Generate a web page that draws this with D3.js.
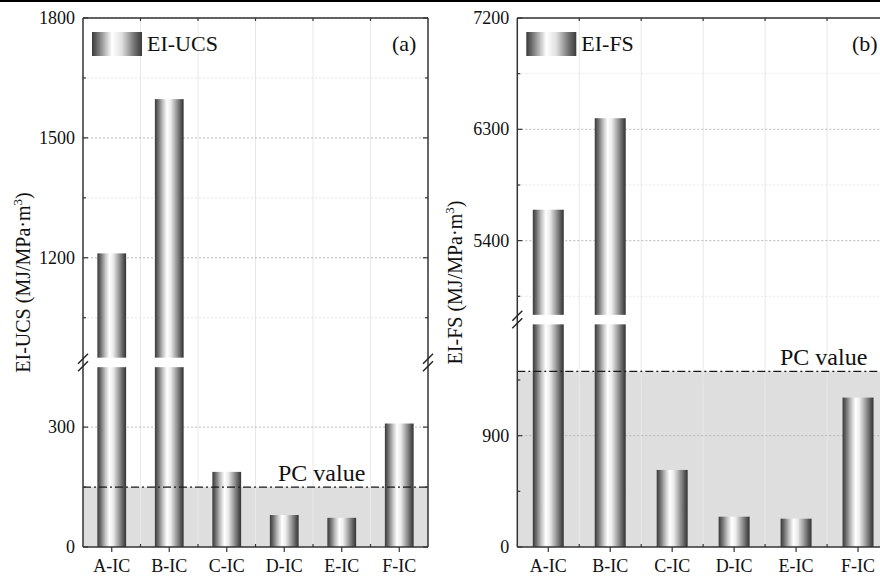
<!DOCTYPE html>
<html><head><meta charset="utf-8">
<script src="https://cdn.jsdelivr.net/npm/d3@7/dist/d3.min.js"></script>
<style>body{margin:0;background:#fff}svg{display:block}</style>
</head><body><svg id="c" width="880" height="580"></svg>
<script>
const categories = ["A-IC","B-IC","C-IC","D-IC","E-IC","F-IC"];
const ucsValues = [1211, 1597, 188, 80, 73, 309];
const fsValues = [5650, 6390, 623, 245, 229, 1208];
const ucsPC = 150;
const fsPC = 1420;
const ucsLower = [0, 450], ucsUpper = [950, 1800];
const fsLower = [0, 1800], fsUpper = [4800, 7200];
const ucsMajor = [0, 300, 1200, 1500, 1800];
const ucsMinor = [150, 1050, 1350, 1650];
const fsMajor = [0, 900, 5400, 6300, 7200];
const fsMinor = [450, 1350, 4950, 5850, 6750];
const ucsLegend = "EI-UCS", fsLegend = "EI-FS";
const ucsTitle = "EI-UCS (MJ/MPa·m", fsTitle = "EI-FS (MJ/MPa·m";
const FONT = "Liberation Serif";

const svg = d3.select("#c");
const defs = svg.append("defs");
function grad(id, stops){
  const g = defs.append("linearGradient").attr("id", id).attr("x1","0%").attr("x2","100%").attr("y1","0%").attr("y2","0%");
  stops.forEach(s => g.append("stop").attr("offset", s[0]).attr("stop-color", s[1]));
}
grad("barG", [[0,"#383838"],[0.12,"#707070"],[0.28,"#c4c4c4"],[0.42,"#ffffff"],[0.55,"#ececec"],[0.75,"#9a9a9a"],[0.9,"#5a5a5a"],[1,"#323232"]]);
grad("legG", [[0,"#3a3a3a"],[0.15,"#808080"],[0.4,"#ffffff"],[0.6,"#e0e0e0"],[0.85,"#707070"],[1,"#3a3a3a"]]);

svg.append("rect").attr("x",0).attr("y",0).attr("width",880).attr("height",2).attr("fill","#000");

function txt(sel){ return sel.style("font-family", FONT).attr("fill","#111"); }

function panel(o){
  const g = svg.append("g");
  const x = d3.scaleBand().domain(categories).range([o.left, o.right]).paddingInner(0.5).paddingOuter(0.25);
  const step = x.step();
  const lowSpan = o.lower[1]-o.lower[0], upSpan = o.upper[1]-o.upper[0];
  const gap = 9.5;
  const k = (o.bottom - o.top - gap)/(lowSpan+upSpan);
  const lowTop = o.bottom - lowSpan*k, upBottom = lowTop - gap;
  const yL = d3.scaleLinear().domain(o.lower).range([o.bottom, lowTop]);
  const yU = d3.scaleLinear().domain(o.upper).range([upBottom, o.top]);
  const Y = v => v <= o.lower[1] ? yL(v) : yU(v);

  g.append("rect").attr("x", o.left).attr("y", yL(o.pc)).attr("width", o.right-o.left).attr("height", o.bottom - yL(o.pc)).attr("fill","#dedede");

  const bnd = categories.slice(0,-1).map(c => x(c) + x.bandwidth()/2 + step/2);
  g.selectAll(".vg").data(bnd).join("line").attr("x1",d=>d).attr("x2",d=>d).attr("y1",o.top).attr("y2",o.bottom).attr("stroke","#e8e8e8").attr("stroke-width",1);
  g.selectAll(".hm").data(o.minor).join("line").attr("x1",o.left).attr("x2",o.right).attr("y1",d=>Y(d)).attr("y2",d=>Y(d)).attr("stroke","#e0e0e0").attr("stroke-dasharray","2,2").attr("stroke-width",0.8);
  g.selectAll(".hM").data(o.major.filter(v=>v>0)).join("line").attr("x1",o.left).attr("x2",o.right).attr("y1",d=>Y(d)).attr("y2",d=>Y(d)).attr("stroke","#aaa").attr("stroke-dasharray","2,2").attr("stroke-width",0.8);

  const bw = x.bandwidth();
  o.values.forEach((v,i) => {
    const cx = x(categories[i]);
    if (v <= o.lower[1]) {
      g.append("rect").attr("x",cx).attr("width",bw).attr("y",yL(v)).attr("height",o.bottom-yL(v)).attr("fill","url(#barG)");
    } else {
      g.append("rect").attr("x",cx).attr("width",bw).attr("y",lowTop).attr("height",o.bottom-lowTop).attr("fill","url(#barG)");
      g.append("rect").attr("x",cx).attr("width",bw).attr("y",yU(v)).attr("height",upBottom-yU(v)).attr("fill","url(#barG)");
    }
  });

  g.append("line").attr("x1",o.left).attr("x2",o.right).attr("y1",yL(o.pc)).attr("y2",yL(o.pc)).attr("stroke","#1a1a1a").attr("stroke-width",1.3).attr("stroke-dasharray","8,3,2,3");
  txt(g.append("text").attr("x",o.pcX).attr("y",yL(o.pc)-6).attr("font-size",24)).text("PC value");

  const fr = g.append("g").attr("stroke","#333").attr("stroke-width",1.5).attr("fill","none");
  fr.append("line").attr("x1",o.left).attr("x2",o.left).attr("y1",o.top).attr("y2",o.bottom);
  fr.append("line").attr("x1",o.left).attr("x2",o.right).attr("y1",o.top).attr("y2",o.top);
  fr.append("line").attr("x1",o.left).attr("x2",o.right).attr("y1",o.bottom).attr("y2",o.bottom);
  fr.append("line").attr("x1",o.right).attr("x2",o.right).attr("y1",o.top).attr("y2",o.bottom);

  const tk = g.append("g").attr("stroke","#333").attr("stroke-width",1.2);
  o.major.forEach(v => { tk.append("line").attr("x1",o.left).attr("x2",o.left+5).attr("y1",Y(v)).attr("y2",Y(v));
    tk.append("line").attr("x1",o.right).attr("x2",o.right-5).attr("y1",Y(v)).attr("y2",Y(v)); });
  o.minor.forEach(v => { tk.append("line").attr("x1",o.left).attr("x2",o.left+3).attr("y1",Y(v)).attr("y2",Y(v));
    tk.append("line").attr("x1",o.right).attr("x2",o.right-3).attr("y1",Y(v)).attr("y2",Y(v)); });
  categories.forEach(c => tk.append("line").attr("x1",x(c)+bw/2).attr("x2",x(c)+bw/2).attr("y1",o.bottom).attr("y2",o.bottom+5));
  bnd.forEach(b => { tk.append("line").attr("x1",b).attr("x2",b).attr("y1",o.bottom).attr("y2",o.bottom-3);
    tk.append("line").attr("x1",b).attr("x2",b).attr("y1",o.top).attr("y2",o.top+3); });

  const brk = g.append("g").attr("stroke","#222").attr("stroke-width",1.4);
  [o.left, o.right].forEach(ax => [upBottom+1, lowTop-1].forEach(yy => {
    brk.append("line").attr("x1",ax-5).attr("x2",ax+5).attr("y1",yy+5).attr("y2",yy-5);
  }));

  txt(g.selectAll(".yl").data(o.major).join("text").attr("x",o.left-8).attr("y",d=>Y(d)+6).attr("text-anchor","end").attr("font-size",18)).text(d=>d);
  txt(g.selectAll(".xl").data(categories).join("text").attr("x",d=>x(d)+bw/2).attr("y",o.bottom+25).attr("text-anchor","middle").attr("font-size",18)).text(d=>d);

  const t = txt(g.append("text").attr("transform",`translate(${o.titleX},${(o.top+o.bottom)/2}) rotate(-90)`).attr("text-anchor","middle").attr("font-size",20));
  t.append("tspan").text(o.title);
  t.append("tspan").attr("font-size",13).attr("dy",-8).text("3");
  t.append("tspan").attr("dy",8).text(")");

  g.append("rect").attr("x",o.left+9).attr("y",32).attr("width",50).attr("height",24).attr("fill","url(#legG)");
  txt(g.append("text").attr("x",o.left+64).attr("y",51).attr("font-size",22)).text(o.legend);
  txt(g.append("text").attr("x",o.labelX).attr("y",51).attr("font-size",22)).text(o.label);
}

panel({left:83, right:428, top:18, bottom:547, lower:ucsLower, upper:ucsUpper, values:ucsValues, pc:ucsPC,
  major:ucsMajor, minor:ucsMinor, title:ucsTitle, titleX:30, legend:ucsLegend, label:"(a)", labelX:392, pcX:278});
panel({left:517.3, right:889, top:18, bottom:547, lower:fsLower, upper:fsUpper, values:fsValues, pc:fsPC,
  major:fsMajor, minor:fsMinor, title:fsTitle, titleX:462, legend:fsLegend, label:"(b)", labelX:852, pcX:780});
</script></body></html>
